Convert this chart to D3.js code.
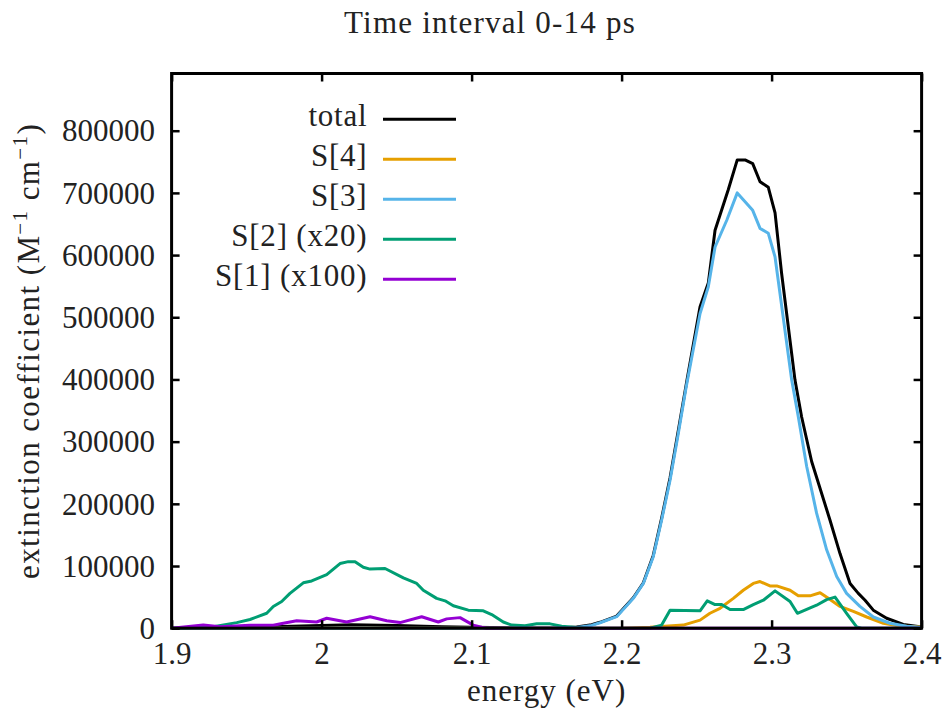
<!DOCTYPE html>
<html>
<head>
<meta charset="utf-8">
<script src="https://cdn.jsdelivr.net/npm/d3@7"></script>
<style>
  body { margin: 0; background: #fff; }
  svg text { font-family: "Liberation Serif", "DejaVu Serif", "Times New Roman", Times, serif; fill: #222; }
</style>
</head>
<body>
<svg id="chart" width="946" height="711"></svg>
<script>
// [energy (eV), extinction coefficient]
const total = [
  [1.9, 0], [1.95, 1000], [1.98, 3000], [2.0, 4500], [2.02, 5500], [2.05, 4500], [2.08, 2500],
  [2.1, 1500], [2.13, 500], [2.16, 800], [2.17, 2000], [2.18, 5500], [2.1856, 9500],
  [2.1967, 19500], [2.2078, 49000], [2.2145, 73000], [2.2211, 117000], [2.2267, 177000],
  [2.2323, 242000], [2.2378, 318000], [2.2438, 402000], [2.2523, 517000], [2.2578, 555000],
  [2.2623, 640000], [2.2711, 705000], [2.2771, 753000], [2.2823, 753000], [2.2874, 747000],
  [2.2923, 718000], [2.2978, 709000], [2.3023, 668000], [2.3067, 570000], [2.3156, 399000],
  [2.32, 340000], [2.3267, 268000], [2.3389, 174000], [2.3456, 120000],
  [2.3523, 72000], [2.3578, 56000], [2.3623, 45000], [2.3678, 29000], [2.3767, 16000],
  [2.3878, 6000], [2.4, 2000]
];

const s4 = [
  [1.9, 0], [2.2, 0], [2.219, 1500], [2.2411, 5000], [2.2523, 13000], [2.2589, 24000],
  [2.2656, 32000], [2.2745, 48000], [2.2811, 61000], [2.2878, 72000], [2.2923, 75000],
  [2.2989, 68000], [2.3034, 68000], [2.3123, 61000], [2.3178, 52000], [2.3256, 52000],
  [2.3323, 57000], [2.3378, 48000], [2.3456, 35000], [2.3545, 27000], [2.3634, 18000],
  [2.3745, 8000], [2.385, 3500], [2.4, 2000]
];

const s3 = [
  [1.9, 0], [2.16, 0], [2.17, 1000], [2.18, 4500], [2.1856, 8800], [2.1967, 18500],
  [2.2078, 48000], [2.2145, 72000], [2.2211, 115000], [2.2267, 174000], [2.2323, 238000],
  [2.2378, 313000], [2.2429, 386000], [2.2523, 506000], [2.2578, 549000], [2.2623, 613000],
  [2.2701, 656000], [2.2771, 700000], [2.2874, 672000], [2.2923, 643000], [2.2978, 635000],
  [2.3023, 597000], [2.3134, 399000], [2.3178, 340000], [2.3234, 260000], [2.33, 185000],
  [2.3367, 126000], [2.3434, 83000], [2.35, 56000], [2.3589, 35000], [2.3678, 18000],
  [2.3789, 8000], [2.39, 3000], [2.4, 1000]
];

// S[2] scaled x20
const s2 = [
  [1.9, 0], [1.9278, 2400], [1.9434, 9000], [1.9523, 14000], [1.9634, 24000], [1.9678, 35000],
  [1.9734, 43000], [1.9789, 56000], [1.9878, 73000], [1.9934, 76000], [2.0034, 86000],
  [2.0123, 104000], [2.0178, 107000], [2.0223, 107000], [2.0278, 98000], [2.0323, 95000],
  [2.0423, 96000], [2.0545, 81000], [2.0634, 72000], [2.0678, 61000], [2.0767, 48000],
  [2.0823, 44000], [2.0878, 36000], [2.0978, 29000], [2.1078, 28000], [2.1134, 22000],
  [2.1211, 10000], [2.1267, 5000], [2.1356, 4000], [2.1434, 7000], [2.1523, 7000],
  [2.16, 3000], [2.17, 1000], [2.18, 0], [2.219, 0], [2.2267, 5000], [2.2323, 29000],
  [2.2523, 28000], [2.2571, 44000], [2.2623, 38000], [2.2667, 38000], [2.2723, 30000],
  [2.2811, 30000], [2.2878, 38000], [2.2945, 45000], [2.3023, 60000], [2.3123, 43000],
  [2.3172, 24000], [2.33, 37000], [2.3367, 46000], [2.3423, 50000], [2.35, 24000],
  [2.3567, 2000], [2.36, 0], [2.4, 0]
];

// S[1] scaled x100
const s1 = [
  [1.9, 0], [1.9211, 5000], [1.9323, 2400], [1.9523, 4600], [1.9678, 4600], [1.9745, 8000],
  [1.9834, 12000], [1.9967, 10000], [2.0034, 16000], [2.0167, 10000], [2.0323, 18500],
  [2.0434, 12000], [2.0523, 9000], [2.0667, 18500], [2.0778, 10000], [2.0834, 15000],
  [2.0923, 17000], [2.1011, 5000], [2.1067, 1500], [2.11, 0], [2.4, 0]
];

const seriesNames = ["total", "S[4]", "S[3]", "S[2] (x20)", "S[1] (x100)"];
const seriesColors = ["#000000", "#e69f00", "#56b4e9", "#009e73", "#9400d3"];
const seriesData = [total, s4, s3, s2, s1];

const xTicks = [1.9, 2.0, 2.1, 2.2, 2.3, 2.4];
const yTicks = [0, 100000, 200000, 300000, 400000, 500000, 600000, 700000, 800000];

const svg = d3.select("#chart");
const plotLeft = 171.6, plotRight = 921.6, plotTop = 73.5, plotBottom = 628.2;

const x = d3.scaleLinear().domain([1.9, 2.4]).range([plotLeft, plotRight]);
const y = d3.scaleLinear().domain([0, 892000]).range([plotBottom, plotTop]);

// curves
svg.append("clipPath").attr("id", "clip")
  .append("rect").attr("x", plotLeft).attr("y", plotTop - 2)
  .attr("width", plotRight - plotLeft).attr("height", plotBottom - plotTop + 4);

const line = d3.line()
  .x(d => x(d[0]))
  .y(d => y(d[1]));

svg.append("g").attr("clip-path", "url(#clip)")
  .selectAll("path")
  .data(seriesData)
  .enter()
  .append("path")
  .attr("d", d => line(d))
  .attr("fill", "none")
  .attr("stroke", (d, i) => seriesColors[i])
  .attr("stroke-width", 3)
  .attr("stroke-linejoin", "round");

// axes with inward ticks, mirrored on opposite sides
const tickLen = 8;
const axisStyle = g => {
  g.attr("font-family", null).attr("font-size", null);
  g.select(".domain").remove();
  g.selectAll(".tick line").attr("stroke", "#000").attr("stroke-width", 2.5);
  g.selectAll(".tick text").attr("fill", "#222").style("font-size", "31px");
};

svg.append("g")
  .attr("transform", `translate(0,${plotBottom})`)
  .call(d3.axisBottom(x).tickValues(xTicks).tickSize(-tickLen).tickPadding(0).tickFormat(d3.format("")))
  .call(axisStyle)
  .call(g => g.selectAll(".tick text").attr("dy", null).attr("y", 35.5));

svg.append("g")
  .attr("transform", `translate(0,${plotTop})`)
  .call(d3.axisTop(x).tickValues(xTicks).tickSize(-tickLen).tickFormat(""))
  .call(axisStyle);

svg.append("g")
  .attr("transform", `translate(${plotLeft},0)`)
  .call(d3.axisLeft(y).tickValues(yTicks).tickSize(-tickLen).tickFormat(d3.format("d")))
  .call(axisStyle)
  .call(g => g.selectAll(".tick text").attr("x", -16.5).attr("dy", "0.33em"));

svg.append("g")
  .attr("transform", `translate(${plotRight},0)`)
  .call(d3.axisRight(y).tickValues(yTicks).tickSize(-tickLen).tickFormat(""))
  .call(axisStyle);

// frame
svg.append("rect")
  .attr("x", plotLeft).attr("y", plotTop)
  .attr("width", plotRight - plotLeft).attr("height", plotBottom - plotTop)
  .attr("fill", "none").attr("stroke", "#000").attr("stroke-width", 3);

// title & labels
svg.append("text")
  .attr("x", 490).attr("y", 33)
  .attr("text-anchor", "middle").style("font-size", "31px")
  .style("letter-spacing", "1.2px")
  .text("Time interval 0-14 ps");

svg.append("text")
  .attr("x", (plotLeft + plotRight) / 2).attr("y", 701)
  .attr("text-anchor", "middle").style("font-size", "31px")
  .style("letter-spacing", "1px")
  .text("energy (eV)");

const ylab = svg.append("text")
  .attr("transform", `translate(39,${(plotTop + plotBottom) / 2}) rotate(-90)`)
  .attr("text-anchor", "middle").style("font-size", "31px")
  .style("letter-spacing", "1.4px");
ylab.append("tspan").text("extinction coefficient (M");
ylab.append("tspan").style("font-size", "21px").attr("dy", -12).text("\u22121");
ylab.append("tspan").attr("dy", 12).text(" cm");
ylab.append("tspan").style("font-size", "21px").attr("dy", -12).text("\u22121");
ylab.append("tspan").attr("dy", 12).text(")");

// legend
const legend = svg.append("g")
  .selectAll("g")
  .data(seriesNames)
  .enter()
  .append("g")
  .attr("transform", (d, i) => `translate(0,${119.3 + 40 * i})`);

legend.append("text")
  .attr("x", 367.5).attr("y", 7)
  .attr("text-anchor", "end").style("font-size", "31px")
  .style("letter-spacing", "0.8px")
  .text(d => d);

legend.append("line")
  .attr("x1", 383).attr("x2", 456)
  .attr("y1", 0).attr("y2", 0)
  .attr("stroke", (d, i) => seriesColors[i])
  .attr("stroke-width", 3);
</script>
</body>
</html>
